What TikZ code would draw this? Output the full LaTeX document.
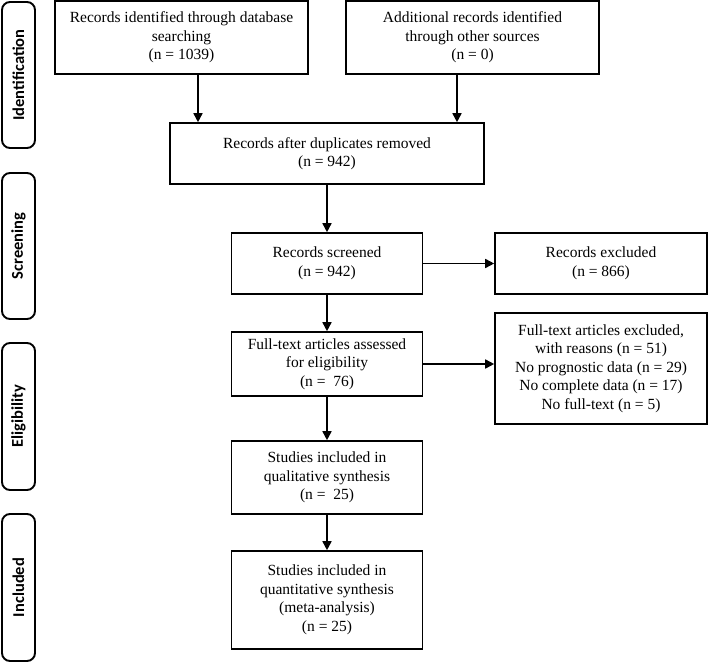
\documentclass[tikz,border=0pt]{standalone}
\usepackage{fontspec}
\setmainfont{Liberation Serif}
\newfontfamily\lblfont{Carlito}
\usetikzlibrary{arrows.meta}
\begin{document}
\begin{tikzpicture}[x=1pt,y=-1pt,
  box/.style={draw, line width=1.6pt, align=center, inner sep=0pt,
    font=\fontsize{15.5}{18.5}\selectfont},
  side/.style={draw, line width=1.9pt, rounded corners=8pt, rotate=90,
    minimum height=33pt, inner sep=0pt,
    font=\lblfont\bfseries\fontsize{16.5}{19}\selectfont},
  arr/.style={line width=1.6pt, -{Triangle[length=9pt,width=9pt]}}]
\useasboundingbox (0,0) rectangle (709,663);
% stage labels
\node[side, minimum width=146pt] (sid) at (18.5,75) {Identification};
\node[side, minimum width=146pt] (sscr) at (18.5,246) {Screening};
\node[side, minimum width=147pt] (selig) at (18.5,416.5) {Eligibility};
\node[side, minimum width=147pt] (sinc) at (18.5,587.5) {Included};
% boxes
\node[box, minimum width=253pt, minimum height=73pt] (b1) at (181.5,37.5)
  {Records identified through database\\searching\\(n = 1039)};
\node[box, minimum width=253pt, minimum height=73pt] (b2) at (472.5,37.5)
  {Additional records identified\\through other sources\\(n = 0)};
\node[box, minimum width=314pt, minimum height=61pt] (b3) at (327,153.5)
  {Records after duplicates removed\\(n = 942)};
\node[box, minimum width=191pt, minimum height=61pt] (b4) at (327,263.5)
  {Records screened\\(n = 942)};
\node[box, minimum width=212pt, minimum height=61pt] (b5) at (601,263.5)
  {Records excluded\\(n = 866)};
\node[box, minimum width=191pt, minimum height=64pt] (b6) at (327,364)
  {Full-text articles assessed\\for eligibility\\(n = \ 76)};
\node[box, minimum width=212pt, minimum height=111pt] (b7) at (601,368.5)
  {Full-text articles excluded,\\with reasons (n = 51)\\No prognostic data (n = 29)\\No complete data (n = 17)\\No full-text (n = 5)};
\node[box, minimum width=191pt, minimum height=73pt] (b8) at (327,477.5)
  {Studies included in\\qualitative synthesis\\(n = \ 25)};
\node[box, minimum width=191pt, minimum height=98pt] (b9) at (327,600)
  {Studies included in\\quantitative synthesis\\(meta-analysis)\\(n = 25)};
% connectors
\draw[arr] ([xshift=16.5pt]b1.south) -- ([xshift=16.5pt]b1.south |- b3.north);
\draw[arr] ([xshift=-15.5pt]b2.south) -- ([xshift=-15.5pt]b2.south |- b3.north);
\draw[arr] (b3) -- (b4);
\draw[arr] (b4) -- (b5);
\draw[arr] (b4) -- (b6);
\draw[arr] (b6) -- (b6 -| b7.west);
\draw[arr] (b6) -- (b8);
\draw[arr] (b8) -- (b9);
\end{tikzpicture}
\end{document}
